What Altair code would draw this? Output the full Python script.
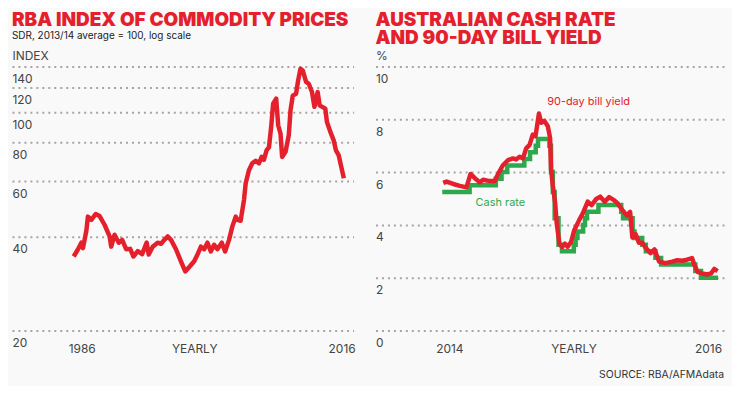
import altair as alt
import pandas as pd

# ---------------- data ----------------
# Left panel: RBA index of commodity prices (SDR, 2013/14 avg = 100), log scale
cp_year = [1986.00, 1986.48, 1986.85, 1987.03, 1987.41, 1987.58, 1987.96, 1988.44, 1988.88,
           1989.43, 1989.99, 1990.17, 1990.54, 1991.01, 1991.39, 1991.83, 1992.28, 1992.64,
           1993.12, 1993.61, 1994.11, 1994.34, 1994.78, 1995.33, 1995.71, 1996.07, 1996.44,
           1996.82, 1997.37, 1997.92, 1998.40, 1998.92, 1999.39, 1999.76, 2000.14, 2000.50,
           2000.87, 2001.24, 2001.61, 2001.97, 2002.46, 2002.83, 2003.27, 2003.63, 2004.01,
           2004.19, 2004.56, 2004.93, 2005.12, 2005.48, 2005.85, 2006.23, 2006.59, 2006.89,
           2007.14, 2007.44, 2007.70, 2007.95, 2008.17, 2008.51, 2008.73, 2008.99, 2009.17,
           2009.55, 2009.91, 2010.10, 2010.35, 2010.72, 2010.94, 2011.21, 2011.46, 2011.83,
           2012.13, 2012.49, 2012.76, 2013.12, 2013.34, 2013.97, 2014.15, 2014.53, 2014.89,
           2015.15, 2015.45, 2015.74, 2016.03]
cp_index = [34.5, 36.4, 38.2, 36.7, 41.8, 46.3, 45.2, 47.2, 46.5,
            43.6, 40.0, 37.1, 40.5, 38.2, 39.0, 36.4, 36.5, 34.5,
            35.9, 35.1, 38.2, 35.0, 37.1, 38.2, 37.9, 39.0, 40.0,
            39.0, 36.4, 33.3, 30.9, 32.1, 33.3, 35.0, 37.1, 36.4,
            38.2, 35.8, 37.6, 36.4, 38.2, 35.8, 39.0, 43.0, 46.3,
            45.2, 44.9, 52.4, 59.2, 65.2, 68.6, 69.9, 68.6, 71.9,
            70.4, 75.5, 77.1, 89.6, 106.4, 110.5, 90.8, 85.4, 71.9,
            74.7, 84.4, 101.4, 113.0, 114.6, 126.0, 137.7, 136.0, 125.0,
            123.3, 116.0, 104.0, 116.0, 105.2, 102.6, 93.0, 86.5, 81.4,
            75.5, 72.9, 66.9, 61.4]

# Right panel: cash rate (step) and 90-day bill yield, %
cash_year = [2004.00, 2005.20, 2006.35, 2006.60, 2006.85, 2007.60, 2007.85, 2008.10, 2008.20,
             2008.70, 2008.77, 2008.85, 2008.93, 2009.10, 2009.25, 2009.77, 2009.85, 2009.93,
             2010.18, 2010.26, 2010.35, 2010.85, 2011.85, 2011.93, 2012.35, 2012.43, 2012.77,
             2012.93, 2013.35, 2013.60, 2015.10, 2015.35, 2016.10]
cash_rate = [5.25, 5.50, 5.75, 6.00, 6.25, 6.50, 6.75, 7.00, 7.25,
             7.00, 6.00, 5.25, 4.25, 3.25, 3.00, 3.25, 3.50, 3.75,
             4.00, 4.25, 4.50, 4.75, 4.50, 4.25, 3.75, 3.50, 3.25,
             3.00, 2.75, 2.50, 2.25, 2.00, 2.00]

bill_year = [2004.04, 2004.19, 2004.48, 2004.77, 2005.06, 2005.24, 2005.43, 2005.65, 2005.79,
             2006.08, 2006.30, 2006.45, 2006.66, 2006.88, 2007.10, 2007.24, 2007.39, 2007.54,
             2007.68, 2007.83, 2007.97, 2008.09, 2008.24, 2008.34, 2008.48, 2008.63, 2008.73,
             2008.77, 2008.85, 2008.95, 2009.02, 2009.14, 2009.25, 2009.38, 2009.50, 2009.65,
             2009.79, 2010.01, 2010.16, 2010.38, 2010.55, 2010.74, 2010.93, 2011.13, 2011.32,
             2011.51, 2011.69, 2011.90, 2012.09, 2012.24, 2012.34, 2012.48, 2012.63, 2012.78,
             2012.92, 2013.14, 2013.31, 2013.51, 2013.79, 2014.09, 2014.31, 2014.53, 2014.74,
             2014.96, 2015.06, 2015.20, 2015.40, 2015.62, 2015.79, 2015.93, 2016.08]
bill_yield = [5.59, 5.64, 5.55, 5.48, 5.42, 5.93, 5.77, 5.61, 5.71,
              5.66, 5.66, 5.93, 6.26, 6.45, 6.52, 6.48, 6.58, 6.52,
              6.90, 7.03, 7.42, 7.36, 8.22, 7.87, 7.94, 7.74, 7.29,
              6.13, 5.48, 4.84, 4.06, 3.29, 3.16, 3.29, 3.17, 3.35,
              3.80, 4.19, 4.43, 4.88, 4.75, 4.97, 5.07, 4.88, 5.05,
              4.95, 4.82, 4.56, 4.36, 4.49, 3.52, 3.65, 3.32, 3.32,
              3.13, 2.93, 3.07, 2.61, 2.55, 2.61, 2.66, 2.64, 2.68,
              2.74, 2.48, 2.22, 2.16, 2.12, 2.16, 2.33, 2.25]

# Series labels inside the right panel
label_text = ["90-day bill yield", "Cash rate"]
label_year = [2010.42, 2006.55]
label_value = [8.65, 4.82]

# Titles
left_title = "RBA INDEX OF COMMODITY PRICES"
left_subtitle = "SDR, 2013/14 average = 100, log scale"
right_title = ["AUSTRALIAN CASH RATE", "AND 90-DAY BILL YIELD"]
source_text = "SOURCE: RBA/AFMAdata"

# Axis labels
left_y_ticks = [20, 40, 60, 80, 100, 120, 140]
right_y_ticks = [0, 2, 4, 6, 8, 10]

# ---------------- styling ----------------
RED = "#e4202c"
GREEN = "#2ea84c"
GRID = "#aaa3a3"
FONT = "Inter"
LABEL = "#444444"

left_df = pd.DataFrame({"year": cp_year, "index": cp_index})
cash_df = pd.DataFrame({"year": cash_year, "rate": cash_rate})
bill_df = pd.DataFrame({"year": bill_year, "rate": bill_yield})
lab_df = pd.DataFrame({"year": label_year, "rate": label_value, "text": label_text})


def y_axis(values, title):
    return alt.Axis(values=values, grid=True, ticks=False, tickSize=0, domain=False,
                    labelAlign="left", labelBaseline="middle", labelPadding=0,
                    labelOffset=12, title=title, titleAngle=0, titleAlign="left",
                    titleBaseline="middle", titleX=0, titleY=-11)


def x_axis(values, expr):
    return alt.Axis(values=values, labelExpr=expr, grid=False, ticks=False, tickSize=0,
                    domain=False, labelPadding=13, labelFlush=False, title=None)


def heading(text, dy, size, color, weight):
    return alt.Chart(pd.DataFrame({"t": [text]})).mark_text(
        font=FONT, fontSize=size, fontWeight=weight, color=color,
        align="left", baseline="alphabetic",
    ).encode(text="t:N", x=alt.value(0), y=alt.value(dy))


left_x = alt.X("year:Q", scale=alt.Scale(domain=[1979.14, 2017.11], nice=False, zero=False),
               axis=x_axis([1986.89, 1999.4, 2015.78],
                           "datum.value < 1990 ? '1986' : datum.value > 2010 ? '2016' : 'YEARLY'"))
left_y = alt.Y("index:Q", scale=alt.Scale(type="log", domain=[20, 140], nice=False),
               axis=y_axis(left_y_ticks, "INDEX"))

left_line = alt.Chart(left_df).mark_line(color=RED, strokeWidth=4.5, strokeJoin="round").encode(
    x=left_x, y=left_y
)
left = alt.layer(
    left_line,
    heading(left_title, -41, 19, RED, 900),
    heading(left_subtitle, -28, 10, "#222222", "normal"),
).properties(width=343, height=265)

right_x = alt.X("year:Q", scale=alt.Scale(domain=[2001.07, 2016.36], nice=False, zero=False),
                axis=x_axis([2004.31, 2009.76, 2015.66],
                            "datum.value < 2006 ? '2014' : datum.value > 2013 ? '2016' : 'YEARLY'"))
right_y = alt.Y("rate:Q", scale=alt.Scale(domain=[0, 10], nice=False),
                axis=y_axis(right_y_ticks, "%"))

cash = alt.Chart(cash_df).mark_line(color=GREEN, strokeWidth=4.5, interpolate="step-after").encode(
    x=right_x, y=right_y
)
bill = alt.Chart(bill_df).mark_line(color=RED, strokeWidth=4.5, strokeJoin="round").encode(
    x="year:Q", y="rate:Q"
)
labels = alt.Chart(lab_df).mark_text(font=FONT, fontSize=11).encode(
    x="year:Q", y="rate:Q", text="text:N",
    color=alt.Color("text:N", scale=alt.Scale(domain=label_text, range=[RED, GREEN]), legend=None),
)

right = alt.layer(
    cash, bill, labels,
    heading(right_title[0], -41, 19, RED, 900),
    heading(right_title[1], -23, 19, RED, 900),
).properties(width=350, height=265)

chart = alt.hconcat(left, right, spacing=22, bounds="flush").properties(
    background="#f9f9f9",
    padding={"left": 4, "top": 2, "right": 4, "bottom": 4},
    title=alt.TitleParams(source_text, orient="bottom", anchor="end",
                          font=FONT, fontSize=10.5, fontWeight="normal", color="#333333",
                          offset=16, dx=-3),
).configure_axis(
    labelFont=FONT, labelFontSize=12, labelColor=LABEL,
    titleFont=FONT, titleFontSize=12, titleFontWeight="normal", titleColor=LABEL,
    gridColor=GRID, gridDash=[2, 4], gridWidth=2,
).configure_view(stroke=None)

chart.save("out.html", embed_options={"renderer": "svg", "actions": False})
